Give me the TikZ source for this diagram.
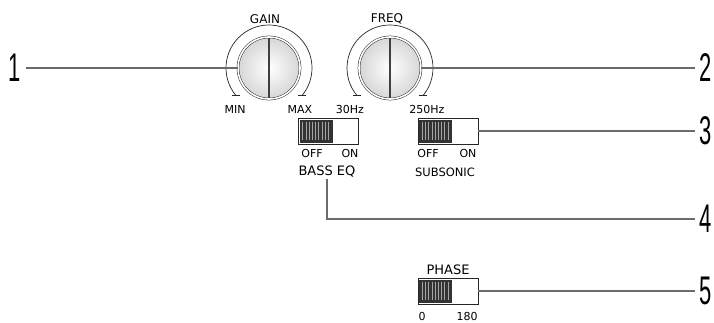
\documentclass[tikz,border=0pt]{standalone}
\usepackage{fontspec}
\setmainfont{DejaVu Sans}
\newfontfamily\numfont{Liberation Sans}
\usetikzlibrary{positioning}

\begin{document}
\begin{tikzpicture}[x=1pt,y=1pt,
  knob/.style={circle,minimum size=62pt,inner sep=0pt,draw=black!85,line width=0.5pt,double=white,double distance=1.6pt,inner color=white,outer color=black!16},
  dial/.style={draw=black!85,line width=0.7pt},
  stem/.style={draw=black!75,line width=1.7pt},
  switch/.style={draw=black!85,line width=0.6pt,fill=white,minimum width=60pt,minimum height=26pt,inner sep=0pt},
  slider/.style={fill=black!80,minimum width=33pt,minimum height=23pt,inner sep=0pt,anchor=west},
  grille/.style={draw=black!35,line width=0.9pt},
  lbl/.style={font=\fontsize{11}{13}\selectfont,inner sep=1pt},
  hdr/.style={font=\fontsize{12}{14}\selectfont,inner sep=1pt},
  ttl/.style={font=\fontsize{13}{15}\selectfont,inner sep=1pt},
  num/.style={font=\numfont\fontsize{40}{40}\selectfont,xscale=0.55,inner sep=8pt},
  lead/.style={draw=black!58,line width=2.9pt}
]
\useasboundingbox (0,0) rectangle (714,322);

% ---- knobs ----
\node[knob] (gain) at (269,254) {};
\node[knob] (freq) at (390,254) {};
\draw[stem] ([yshift=-1pt]gain.north) -- ([yshift=1pt]gain.south);
\draw[stem] ([yshift=-1pt]freq.north) -- ([yshift=1pt]freq.south);
\foreach \k in {gain,freq}{
  \draw[dial] ([shift={(220:43)}]\k.center) arc[start angle=220,end angle=-40,radius=43];
  \draw[dial] ([shift={(220:43)}]\k.center) ++(-4,0) -- ++(8,0);
  \draw[dial] ([shift={(-40:43)}]\k.center) ++(-4,0) -- ++(8,0);
}
\node[hdr] (gaintxt) at (265,303) {GAIN};
\node[hdr] (freqtxt) at (387,303) {FREQ};
\node[lbl] (mintxt) at (235,213) {MIN};
\node[lbl] (maxtxt) at (300,213) {MAX};
\node[lbl] (lowtxt) at (350,213) {30Hz};
\node[lbl] (hightxt) at (427,213) {250Hz};

% ---- switches ----
\node[switch] (bassw) at (328.5,191) {};
\node[switch] (subsw) at (448,191) {};
\node[switch] (phasesw) at (448,31) {};
\foreach \s in {bassw,subsw,phasesw}{
  \node[slider] (\s-knob) at ([xshift=1.2pt]\s.west) {};
  \foreach \k in {0,...,8}
    \draw[grille] ([xshift={3.5+3.2*\k},yshift=2.5]\s-knob.south west) -- ++(0,18);
}
\node[lbl] (bassoff) at (312,168.5) {OFF};
\node[lbl] (basson) at (350,168.5) {ON};
\node[ttl] (bass) at (327,150) {BASS EQ};
\node[lbl] (suboff) at (428,168.5) {OFF};
\node[lbl] (subon) at (468,168.5) {ON};
\node[ttl,font=\fontsize{11.5}{14}\selectfont] (subtxt) at (445,150) {SUBSONIC};
\node[ttl] (phasetxt) at (448,52) {PHASE};
\node[lbl] (zero) at (422,6) {0};
\node[lbl] (oneeighty) at (467,6) {180};

% ---- callouts ----
\node[num] (n1) at (15,254) {1};
\node[num] (n2) at (706,254) {2};
\node[num] (n3) at (706,191) {3};
\node[num] (n4) at (706,103) {4};
\node[num] (n5) at (706,31) {5};
\draw[lead] (n1) -- (gain);
\draw[lead] (freq) -- (n2);
\draw[lead] (subsw) -- (n3);
\draw[lead] (bass.south) |- (n4);
\draw[lead] (phasesw) -- (n5);
\end{tikzpicture}
\end{document}
